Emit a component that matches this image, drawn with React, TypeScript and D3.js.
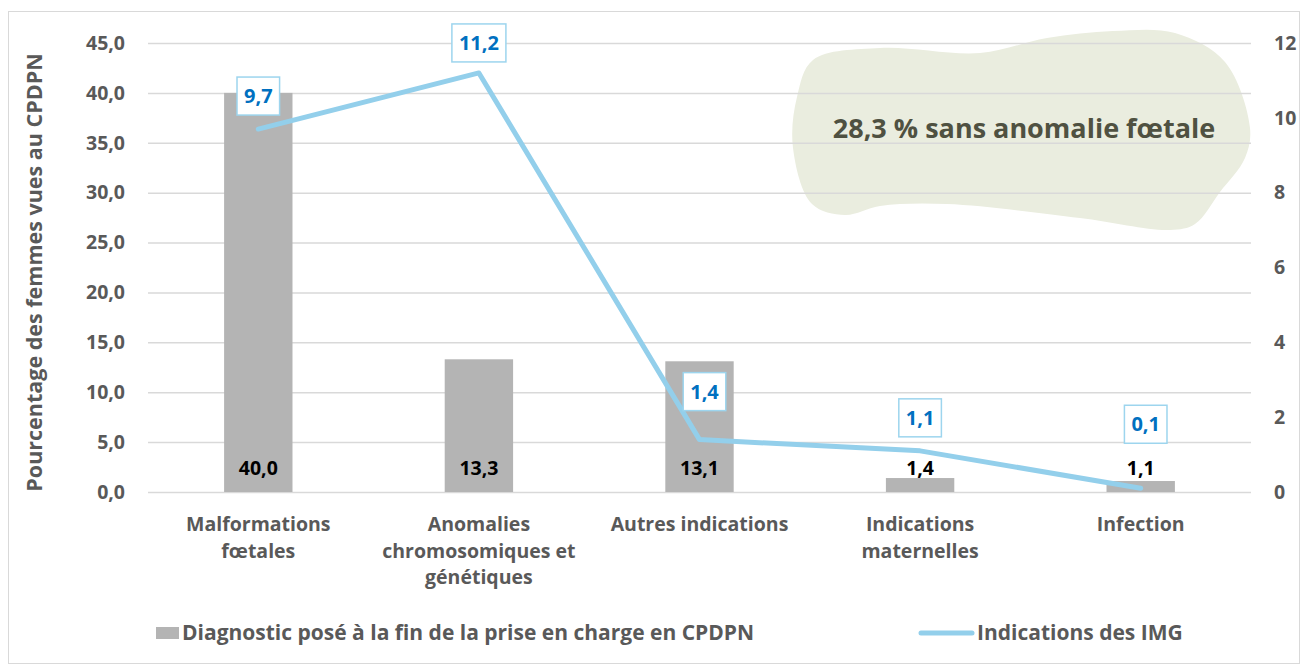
import React, { useEffect, useRef } from 'react';
import * as d3 from 'd3';

const categories = [
  ['Malformations', 'fœtales'],
  ['Anomalies', 'chromosomiques et', 'génétiques'],
  ['Autres indications'],
  ['Indications', 'maternelles'],
  ['Infection'],
];
const diagnosticValues = [40.0, 13.3, 13.1, 1.4, 1.1];
const imgValues = [9.7, 11.2, 1.4, 1.1, 0.1];
const leftTicks = [0, 5, 10, 15, 20, 25, 30, 35, 40, 45];
const rightTicks = [0, 2, 4, 6, 8, 10, 12];
const seriesNames = ['Diagnostic posé à la fin de la prise en charge en CPDPN', 'Indications des IMG'];
const yTitle = 'Pourcentage des femmes vues au CPDPN';
const annotation = '28,3 % sans anomalie fœtale';

// where the IMG labels sit relative to their point (manually placed in the original)
const lineLabelOffsets = [[0, -33], [0, -30], [5, -48], [0, -33], [5, -64]];

// outline of the note bubble
const blobPoints: [number, number][] = [
  [813, 60], [880, 48], [980, 53], [1047, 38], [1113, 31], [1175, 33],
  [1225, 62], [1250, 128], [1245, 158], [1220, 192], [1195, 224], [1170, 230],
  [1080, 218], [947, 204], [880, 206], [845, 215], [812, 204], [793, 148], [797, 97],
];

const FONT = '"Open Sans", "Noto Sans", sans-serif';
const fmt = (d: number) => d.toFixed(1).replace('.', ',');

const W = 1303;
const H = 666;

const App = () => {
  const ref = useRef<SVGSVGElement | null>(null);

  useEffect(() => {
    if (!ref.current) return;
    const svg = d3.select(ref.current);
    svg.selectAll('*').remove();

    const left = 148, right = 1251, top = 43, bottom = 492;

    const x = d3.scaleBand<number>()
      .domain(d3.range(categories.length))
      .range([left, right])
      .paddingInner(0.69)
      .paddingOuter(0.345);
    const cx = (i: number) => (x(i) as number) + x.bandwidth() / 2;

    const y = d3.scaleLinear().domain([0, 45]).range([bottom, top]);
    const y2 = d3.scaleLinear().domain([0, 12]).range([bottom, top]);

    // chart frame
    svg.append('rect')
      .attr('x', 8.5).attr('y', 11.5)
      .attr('width', W - 12).attr('height', H - 14)
      .attr('fill', '#fff').attr('stroke', '#d9d9d9');

    // note bubble
    svg.append('path')
      .attr('d', d3.line().curve(d3.curveCatmullRomClosed.alpha(0.5))(blobPoints))
      .attr('fill', '#eaeddf');

    // gridlines
    svg.append('g')
      .selectAll('line')
      .data(leftTicks)
      .enter().append('line')
      .attr('x1', left).attr('x2', right)
      .attr('y1', d => y(d) + 0.5).attr('y2', d => y(d) + 0.5)
      .attr('stroke', '#d9d9d9').attr('stroke-width', 1.5);

    // left axis
    svg.append('g')
      .attr('transform', `translate(${left - 23},0)`)
      .call(d3.axisLeft(y).tickValues(leftTicks).tickFormat(d => fmt(+d)).tickSize(0).tickPadding(0))
      .call(g => g.select('.domain').remove())
      .selectAll('text')
      .attr('font-family', FONT).attr('font-size', 19.5).attr('font-weight', 700)
      .attr('fill', '#595959');

    // right axis
    svg.append('g')
      .attr('transform', `translate(${right + 23},0)`)
      .call(d3.axisRight(y2).tickValues(rightTicks).tickFormat(d => String(d)).tickSize(0).tickPadding(0))
      .call(g => g.select('.domain').remove())
      .selectAll('text')
      .attr('font-family', FONT).attr('font-size', 19.5).attr('font-weight', 700)
      .attr('fill', '#595959');

    // y title
    svg.append('text')
      .attr('transform', `translate(42,${(top + bottom) / 2 + 5}) rotate(-90)`)
      .attr('text-anchor', 'middle')
      .attr('font-family', FONT).attr('font-size', 21.5).attr('font-weight', 700)
      .attr('fill', '#595959')
      .text(yTitle);

    // bars
    svg.append('g')
      .selectAll('rect')
      .data(diagnosticValues)
      .enter().append('rect')
      .attr('x', (_, i) => x(i) as number)
      .attr('y', d => y(d))
      .attr('width', x.bandwidth())
      .attr('height', d => bottom - y(d))
      .attr('fill', '#b4b4b4');

    svg.append('g')
      .selectAll('text')
      .data(diagnosticValues)
      .enter().append('text')
      .attr('x', (_, i) => cx(i))
      .attr('y', bottom - 17)
      .attr('text-anchor', 'middle')
      .attr('font-family', FONT).attr('font-size', 19.5).attr('font-weight', 700)
      .attr('fill', '#000')
      .text(d => fmt(d));

    // x labels
    const xl = svg.append('g')
      .selectAll('text')
      .data(categories)
      .enter().append('text')
      .attr('text-anchor', 'middle')
      .attr('font-family', FONT).attr('font-size', 19.5).attr('font-weight', 700)
      .attr('fill', '#595959');
    xl.each(function (lines, i) {
      d3.select(this).selectAll('tspan')
        .data(lines)
        .enter().append('tspan')
        .attr('x', cx(i))
        .attr('y', (_, j) => 531 + j * 26.5)
        .text(t => t);
    });

    // line
    svg.append('path')
      .datum(imgValues)
      .attr('d', d3.line<number>().x((_, i) => cx(i)).y(d => y2(d)))
      .attr('fill', 'none')
      .attr('stroke', '#93cfeb')
      .attr('stroke-width', 5)
      .attr('stroke-linejoin', 'round')
      .attr('stroke-linecap', 'round');

    // line labels
    const lg = svg.append('g')
      .selectAll('g')
      .data(imgValues)
      .enter().append('g')
      .attr('transform', (d, i) => `translate(${cx(i) + lineLabelOffsets[i][0]},${y2(d) + lineLabelOffsets[i][1]})`);
    lg.append('rect').attr('class', 'box');
    lg.append('text')
      .attr('text-anchor', 'middle')
      .attr('dy', 7)
      .attr('font-family', FONT).attr('font-size', 20).attr('font-weight', 700)
      .attr('fill', '#0070c0')
      .text(d => fmt(d));
    lg.each(function () {
      const g = d3.select(this);
      const w = (g.select('text').node() as SVGTextElement).getComputedTextLength() + 14;
      g.select('rect')
        .attr('x', -w / 2).attr('y', -19)
        .attr('width', w).attr('height', 38)
        .attr('fill', '#fff')
        .attr('stroke', '#9dd5ee').attr('stroke-width', 1.5);
    });

    // annotation text
    svg.append('text')
      .attr('x', 1024).attr('y', 138)
      .attr('text-anchor', 'middle')
      .attr('font-family', FONT).attr('font-size', 27).attr('font-weight', 700)
      .attr('fill', '#4f5141')
      .text(annotation);

    // legend
    const legY = 633;
    svg.append('rect')
      .attr('x', 156).attr('y', legY - 6).attr('width', 23).attr('height', 12)
      .attr('fill', '#b4b4b4');
    svg.append('text')
      .attr('x', 182).attr('y', legY + 7)
      .attr('font-family', FONT).attr('font-size', 21).attr('font-weight', 700)
      .attr('fill', '#595959')
      .text(seriesNames[0]);
    svg.append('line')
      .attr('x1', 921).attr('x2', 972).attr('y1', legY).attr('y2', legY)
      .attr('stroke', '#93cfeb').attr('stroke-width', 5).attr('stroke-linecap', 'round');
    svg.append('text')
      .attr('x', 977).attr('y', legY + 7)
      .attr('font-family', FONT).attr('font-size', 21).attr('font-weight', 700)
      .attr('fill', '#595959')
      .text(seriesNames[1]);
  }, []);

  return (
    <svg
      ref={ref}
      width={W}
      height={H}
      style={{ position: 'absolute', left: 0, top: 0, display: 'block' }}
    ></svg>
  );
};

export default App;
